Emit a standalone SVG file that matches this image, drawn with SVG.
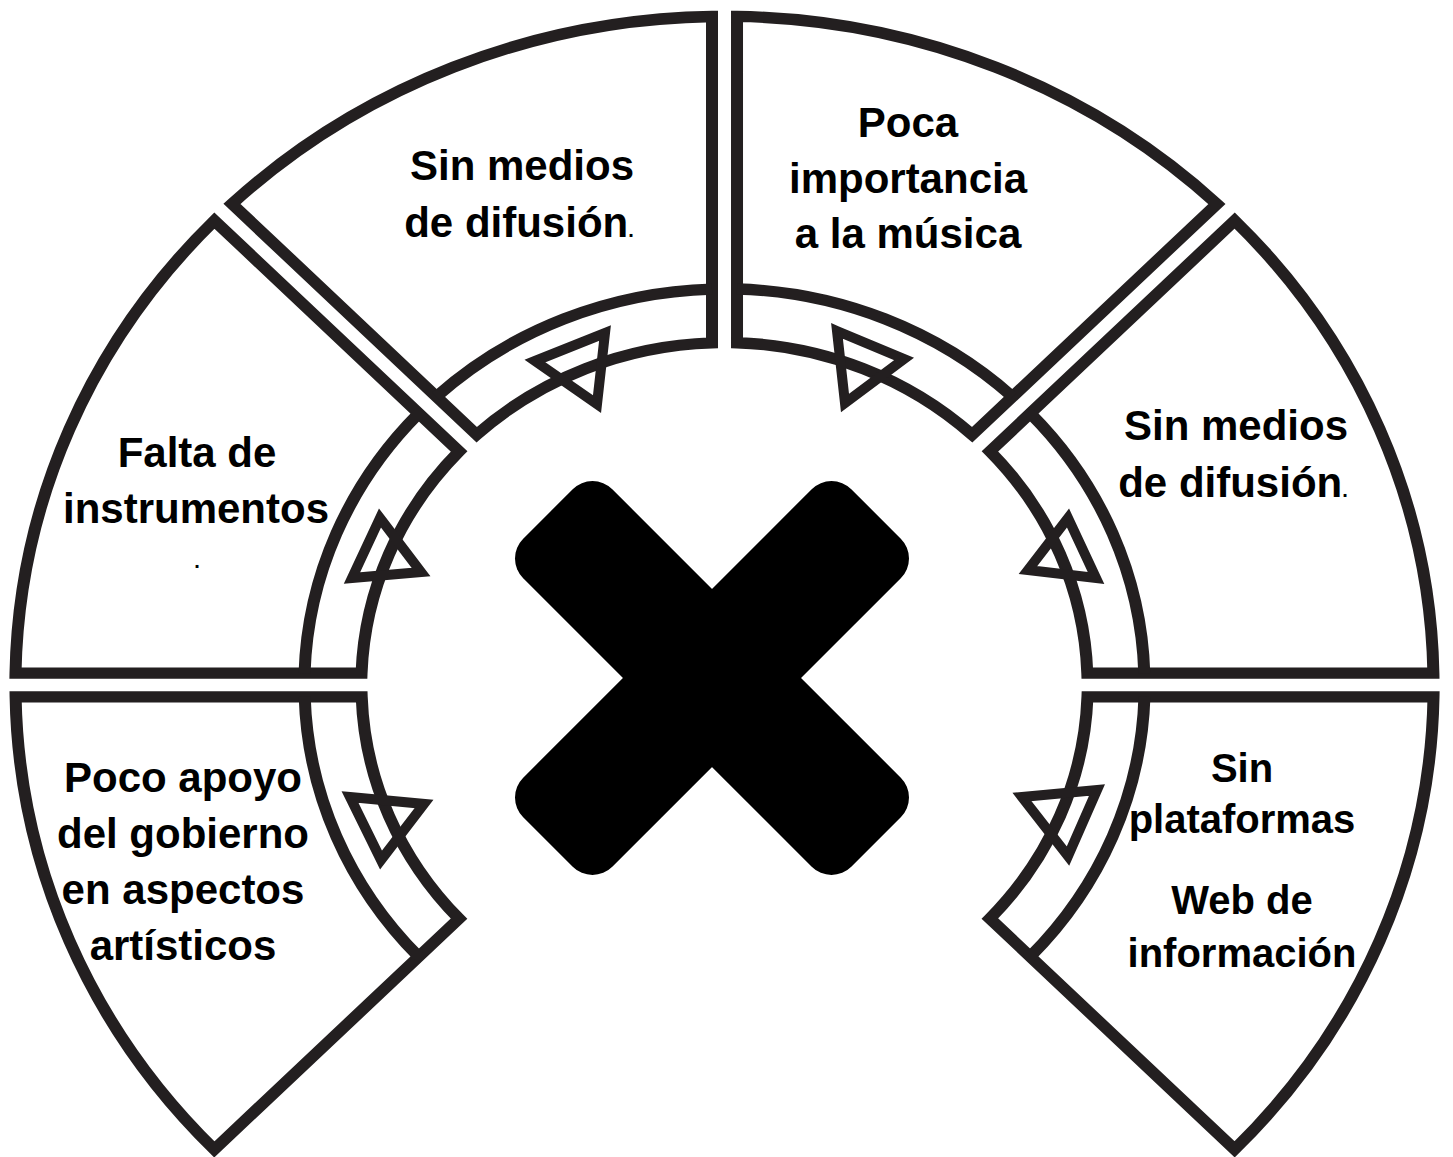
<svg xmlns="http://www.w3.org/2000/svg" xmlns:xlink="http://www.w3.org/1999/xlink" width="1453" height="1157" viewBox="0 0 1453 1157">
<style>
.seg{fill:none;stroke:#231f20;stroke-width:12;stroke-linejoin:miter;stroke-miterlimit:10}
.tri{fill:none;stroke:#231f20;stroke-width:10;stroke-linejoin:miter;stroke-miterlimit:10}
.lbl{font-family:"Liberation Sans",Arial,sans-serif;font-weight:bold;font-size:42px;fill:#000;text-anchor:middle}
.sm{font-size:40px}
.dot{font-size:20px}
</style>
<defs>
<g id="sector">
<path class="seg" d="M -492.5 -510.2 A 709 709 0 0 1 -12.5 -708.9 L -12.5 -362.8 A 363 363 0 0 0 -247.8 -265.5 Z"/>
<path class="seg" d="M -288.1 -305.8 A 420 420 0 0 1 -12.5 -419.8"/>
</g>
</defs>
<rect width="1453" height="1157" fill="#fff"/>

<g id="node-top-left">
<use href="#sector" transform="translate(724.5 685) scale(1 0.943)"/>
<text class="lbl" x="522" y="180">Sin medios</text>
<text class="lbl" x="519" y="237">de difusión<tspan class="dot">.</tspan></text>
</g>

<g id="node-top-right">
<use href="#sector" transform="translate(724.5 685) scale(1 0.943) rotate(45)"/>
<text class="lbl" x="908" y="137">Poca</text>
<text class="lbl" x="908" y="193">importancia</text>
<text class="lbl" x="908" y="248">a la música</text>
</g>

<g id="node-right">
<use href="#sector" transform="translate(724.5 685) scale(1 0.943) rotate(90)"/>
<text class="lbl" x="1236" y="440">Sin medios</text>
<text class="lbl" x="1233" y="497">de difusión<tspan class="dot">.</tspan></text>
</g>

<g id="node-bottom-right">
<use href="#sector" transform="translate(724.5 685) scale(1 0.943) rotate(135)"/>
<text class="lbl sm" x="1242" y="782">Sin</text>
<text class="lbl sm" x="1242" y="833">plataformas</text>
<text class="lbl sm" x="1242" y="914">Web de</text>
<text class="lbl sm" x="1242" y="967">información</text>
</g>

<g id="node-left">
<use href="#sector" transform="translate(724.5 685) scale(1 0.943) rotate(-45)"/>
<text class="lbl" x="197" y="467">Falta de</text>
<text class="lbl" x="196" y="523">instrumentos</text>
<text class="lbl dot" x="197" y="568">.</text>
</g>

<g id="node-bottom-left">
<use href="#sector" transform="translate(724.5 685) scale(1 0.943) rotate(-90)"/>
<text class="lbl" x="183" y="792">Poco apoyo</text>
<text class="lbl" x="183" y="848">del gobierno</text>
<text class="lbl" x="183" y="904">en aspectos</text>
<text class="lbl" x="183" y="960">artísticos</text>
</g>

<g id="center-x" fill="#000">
<rect x="-232" y="-63" width="464" height="126" rx="28" transform="translate(712 678) rotate(45)"/>
<rect x="-232" y="-63" width="464" height="126" rx="28" transform="translate(712 678) rotate(-45)"/>
</g>

<g id="connectors">
<polygon class="tri" points="535,361 605,333 597,404"/>
<polygon class="tri" points="837,331 904,359 845,403"/>
<polygon class="tri" points="380,518 421,572 352,578"/>
<polygon class="tri" points="1068,518 1028,570 1096,578"/>
<polygon class="tri" points="350,797 424,804 381,860"/>
<polygon class="tri" points="1022,797 1097,790 1068,856"/>
</g>
</svg>
